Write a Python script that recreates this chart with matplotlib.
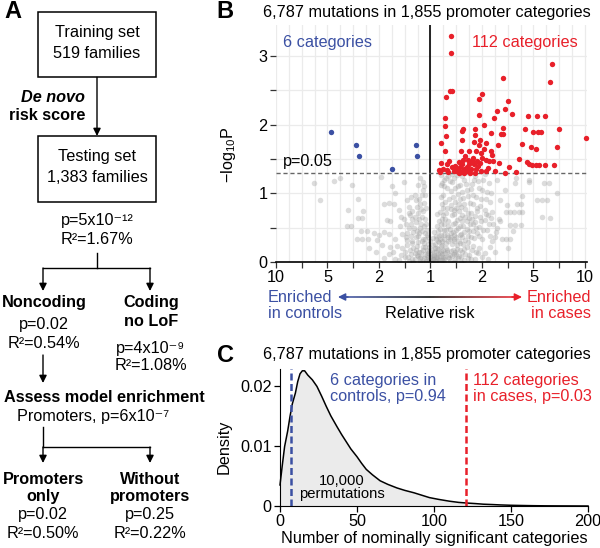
import numpy as np
import matplotlib.pyplot as plt
from matplotlib.patches import Rectangle
from matplotlib.collections import LineCollection
from matplotlib.colors import LinearSegmentedColormap

plt.rcParams['font.family'] = ['Liberation Sans', 'DejaVu Sans']
plt.rcParams['mathtext.fontset'] = 'custom'
plt.rcParams['mathtext.rm'] = 'Liberation Sans'
plt.rcParams['mathtext.it'] = 'Liberation Sans:italic'
plt.rcParams['mathtext.bf'] = 'Liberation Sans:bold'
plt.rcParams['font.size'] = 11.7

BLUE = '#3B50A3'
RED = '#E8202A'

# ---- panel B data (x in axis units: -3..3 <-> RR 10,5,2,1,2,5,10) ----
rr_ticks = [-3, -2, -1, 0, 1, 2, 3]
rr_labels = ['10', '5', '2', '1', '2', '5', '10']

ctrl_x = [-1.94, -1.44, -1.38, -0.75, -0.29, -0.26]
ctrl_y = [1.89, 1.71, 1.54, 1.35, 1.71, 1.54]

case_x = [0.40, 0.40, 0.37, 0.41, 0.30, 0.29, 0.29, 0.30, 0.21, 0.29,
          0.20, 0.36, 0.33, 0.17, 0.33, 0.35, 0.19, 0.63, 0.61, 0.62,
          0.59, 0.74, 0.87, 0.87, 0.85, 0.95, 0.88, 0.98, 1.04, 1.04,
          1.07, 1.01, 1.07, 1.14, 1.11, 0.98, 1.07, 1.17, 1.17, 1.20,
          1.24, 1.33, 1.40, 1.37, 1.41, 1.53, 1.66, 1.71, 1.77, 1.84,
          1.88, 1.92, 1.98, 2.04, 2.10, 1.95, 2.04, 2.00, 2.08, 2.15,
          2.23, 2.40, 2.45, 2.50, 3.02, 0.95, 0.94, 1.00, 1.30, 1.40,
          1.44, 1.51, 1.59, 1.31, 1.90, 2.06, 2.22, 2.32, 2.36, 0.97,
          0.48, 0.53, 0.50, 0.58, 0.62, 0.65, 0.60, 0.70, 0.74, 0.72,
          0.80, 0.84, 0.78, 0.66, 0.56, 0.70, 0.88, 0.92, 0.82, 0.68,
          0.55, 0.45, 0.90, 0.96, 0.63, 0.76, 1.25, 1.45, 0.25, 0.42,
          1.22, 0.86]
case_y = [3.29, 3.04, 2.49, 2.49, 2.40, 2.09, 1.98, 1.83, 1.73, 1.61,
          1.44, 1.47, 1.42, 1.34, 1.34, 1.31, 1.31, 1.93, 1.91, 1.77,
          1.61, 1.61, 1.93, 1.85, 1.75, 1.71, 1.61, 1.59, 1.64, 2.00,
          1.73, 1.51, 1.49, 1.47, 1.37, 1.32, 1.32, 1.88, 1.61, 1.56,
          2.10, 1.44, 1.95, 1.86, 1.86, 1.38, 1.31, 1.50, 1.72, 1.93,
          1.46, 1.42, 1.41, 1.41, 1.41, 1.67, 1.64, 1.89, 1.89, 1.89,
          1.41, 1.41, 1.67, 1.93, 1.80, 2.14, 2.38, 2.45, 2.20, 2.68,
          2.22, 2.34, 2.15, 1.70, 2.13, 2.13, 2.13, 2.62, 2.88, 1.78,
          1.40, 1.36, 1.33, 1.38, 1.42, 1.35, 1.31, 1.38, 1.43, 1.48,
          1.47, 1.42, 1.35, 1.30, 1.29, 1.32, 1.36, 1.40, 1.52, 1.55,
          1.45, 1.32, 1.47, 1.44, 1.49, 1.30, 1.33, 1.30, 1.36, 1.38,
          1.47, 1.30]

# non-significant categories (x, -log10 p), read region by region from the cloud
bg_core = [(-0.62, 0.03), (-0.5, 0.08), (-0.41, 0.02), (-0.37, 0.12), (-0.31, 0.05),
           (-0.28, 0.18), (-0.24, 0.09), (-0.2, 0.02), (-0.19, 0.14), (-0.15, 0.22),
           (-0.13, 0.06), (-0.1, 0.11), (-0.08, 0.01), (-0.06, 0.17), (-0.04, 0.07),
           (-0.02, 0.03), (0.01, 0.02), (0.03, 0.09), (0.05, 0.04), (0.06, 0.15),
           (0.08, 0.01), (0.1, 0.07), (0.12, 0.2), (0.14, 0.12), (0.16, 0.03),
           (0.19, 0.09), (0.21, 0.16), (0.23, 0.25), (0.26, 0.05), (0.28, 0.13),
           (0.31, 0.21), (0.34, 0.08), (0.37, 0.02), (0.39, 0.16), (0.42, 0.26),
           (0.45, 0.11), (0.48, 0.04), (0.51, 0.19), (0.55, 0.09), (0.58, 0.28),
           (0.62, 0.14), (0.66, 0.03), (0.7, 0.22), (0.75, 0.1), (0.8, 0.17),
           (0.86, 0.05), (0.92, 0.13), (1.0, 0.08), (-0.72, 0.14), (-0.55, 0.2),
           (-0.45, 0.25), (-0.35, 0.27), (-0.25, 0.29), (-0.12, 0.27), (-0.9, 0.06),
           (-0.78, 0.22), (-0.33, 0.0), (0.0, 0.12), (-0.02, 0.22), (0.09, 0.26),
           (0.17, 0.29), (0.27, 0.0), (0.45, 0.0), (0.6, 0.0), (-0.16, 0.0), (0.02, 0.0),
           (-0.27, 0.1), (-0.21, 0.06), (-0.09, 0.04), (-0.05, 0.13), (0.04, 0.05),
           (0.07, 0.1), (0.11, 0.02), (0.13, 0.07), (0.18, 0.05), (0.22, 0.11),
           (0.25, 0.18), (0.32, 0.14), (0.36, 0.06), (0.41, 0.09), (0.47, 0.15),
           (0.53, 0.06), (0.65, 0.19), (0.72, 0.06), (-0.44, 0.07), (-0.34, 0.2),
           (-0.4, 0.17), (-0.36, 0.05), (-0.3, 0.13), (-0.26, 0.24), (-0.23, 0.15),
           (-0.18, 0.08), (-0.17, 0.31), (-0.14, 0.17), (-0.11, 0.22), (-0.07, 0.1),
           (-0.05, 0.26), (-0.03, 0.16), (-0.01, 0.07), (0.0, 0.3), (0.02, 0.18),
           (0.04, 0.25), (0.06, 0.08), (0.08, 0.2), (0.1, 0.14), (0.12, 0.04),
           (0.14, 0.3), (0.15, 0.19), (0.18, 0.13), (0.2, 0.23), (0.22, 0.03),
           (0.24, 0.08), (0.26, 0.34), (0.29, 0.08), (0.3, 0.28), (0.33, 0.18),
           (0.35, 0.3), (0.38, 0.1), (0.4, 0.36), (0.43, 0.18), (0.46, 0.3),
           (0.5, 0.12), (0.52, 0.25), (0.57, 0.18), (0.6, 0.08), (0.64, 0.26),
           (0.68, 0.12), (0.73, 0.29), (0.78, 0.04), (0.83, 0.24), (0.88, 0.14),
           (0.95, 0.2), (1.05, 0.13), (1.12, 0.05), (-0.5, 0.15), (-0.58, 0.1),
           (-0.65, 0.24), (-0.46, 0.32), (-0.38, 0.38), (-0.29, 0.36), (-0.22, 0.42),
           (-0.1, 0.33), (-0.06, 0.4), (0.05, 0.35), (0.11, 0.38), (0.21, 0.4),
           (-0.8, 0.12), (-0.68, 0.05)]
bg_mid = [(-0.68, 0.33), (-0.55, 0.41), (-0.47, 0.36), (-0.42, 0.5), (-0.36, 0.31),
          (-0.33, 0.44), (-0.28, 0.58), (-0.24, 0.38), (-0.2, 0.49), (-0.17, 0.66),
          (-0.14, 0.34), (-0.11, 0.42), (-0.08, 0.55), (-0.52, 0.62), (-0.4, 0.69),
          (-0.3, 0.66), (-0.6, 0.52), (0.1, 0.34), (0.14, 0.45), (0.17, 0.38),
          (0.2, 0.55), (0.23, 0.31), (0.26, 0.47), (0.29, 0.62), (0.32, 0.39),
          (0.35, 0.53), (0.38, 0.33), (0.41, 0.68), (0.44, 0.44), (0.47, 0.57),
          (0.5, 0.36), (0.53, 0.49), (0.57, 0.64), (0.6, 0.41), (0.64, 0.53),
          (0.67, 0.32), (0.71, 0.6), (0.74, 0.45), (0.78, 0.37), (0.82, 0.56),
          (0.86, 0.67), (0.9, 0.42), (0.95, 0.51), (1.0, 0.33), (1.05, 0.61),
          (1.1, 0.46), (1.16, 0.38), (1.22, 0.55), (1.28, 0.44), (1.33, 0.62),
          (0.16, 0.6), (0.25, 0.68), (0.4, 0.42), (0.55, 0.31), (0.7, 0.48),
          (0.85, 0.35), (0.96, 0.66), (1.12, 0.68), (1.2, 0.31), (0.12, 0.52),
          (0.3, 0.46), (0.62, 0.69), (0.8, 0.63), (-0.16, 0.45), (-0.05, 0.36),
          (0.07, 0.43), (0.19, 0.33), (0.34, 0.36), (0.46, 0.4), (0.62, 0.36),
          (0.13, 0.7), (0.18, 0.48), (0.22, 0.63), (0.27, 0.55), (0.31, 0.72),
          (0.34, 0.6), (0.37, 0.48), (0.39, 0.77), (0.43, 0.56), (0.46, 0.7),
          (0.49, 0.46), (0.52, 0.61), (0.55, 0.74), (0.58, 0.52), (0.61, 0.6),
          (0.65, 0.44), (0.68, 0.66), (0.72, 0.38), (0.76, 0.55), (0.79, 0.72),
          (0.83, 0.45), (0.87, 0.58), (0.91, 0.74), (0.94, 0.38), (0.98, 0.6),
          (1.02, 0.47), (1.07, 0.7), (1.13, 0.56), (1.18, 0.64), (1.25, 0.36),
          (1.3, 0.5), (0.26, 0.39), (0.45, 0.34), (0.58, 0.4), (0.75, 0.64),
          (0.88, 0.5), (-0.45, 0.42), (-0.38, 0.55), (-0.32, 0.5), (-0.26, 0.45),
          (-0.23, 0.62), (-0.19, 0.56), (-0.13, 0.52), (-0.1, 0.62), (-0.07, 0.47),
          (-0.35, 0.63), (-0.25, 0.72), (-0.15, 0.74), (-0.48, 0.56)]
bg_top = [(-0.36, 0.74), (-0.27, 0.8), (-0.22, 0.92), (-0.18, 0.77), (-0.31, 0.98),
          (-0.15, 1.05), (-0.25, 1.12), (-0.12, 0.86), (-0.2, 1.22), (-0.14, 1.17),
          (-0.42, 0.72), (-0.1, 0.97), (0.18, 0.73), (0.22, 0.85), (0.25, 0.97),
          (0.27, 1.1), (0.3, 1.22), (0.33, 0.78), (0.36, 0.91), (0.39, 1.03),
          (0.42, 1.16), (0.45, 0.75), (0.48, 0.88), (0.51, 1.27), (0.54, 0.99),
          (0.57, 1.12), (0.6, 0.8), (0.63, 0.93), (0.66, 1.2), (0.7, 1.05),
          (0.73, 0.72), (0.76, 0.86), (0.8, 1.14), (0.83, 0.97), (0.87, 1.25),
          (0.9, 0.79), (0.94, 1.08), (0.98, 0.91), (1.02, 1.19), (1.06, 0.76),
          (1.1, 1.02), (1.15, 0.88), (1.2, 0.73), (0.21, 1.27), (0.35, 1.25),
          (0.47, 1.08), (0.68, 0.77), (0.75, 1.29), (1.05, 1.28), (0.24, 0.79),
          (0.55, 0.84), (0.92, 1.18), (0.4, 0.83), (0.62, 1.02),
          (-0.2, 0.84), (-0.28, 0.9), (-0.12, 1.1), (-0.17, 0.97), (-0.08, 0.78),
          (0.2, 0.95), (0.23, 1.15), (0.28, 0.87), (0.32, 1.07), (0.38, 1.18),
          (0.43, 0.95), (0.46, 1.22), (0.5, 0.79), (0.53, 1.1), (0.58, 0.92),
          (0.61, 1.25), (0.65, 0.85), (0.69, 1.13), (0.72, 0.96), (0.78, 1.06),
          (0.82, 0.84), (0.85, 1.2), (0.88, 0.95), (0.96, 0.82), (1.0, 1.05),
          (1.08, 0.92), (1.13, 1.15), (1.18, 1.0), (0.26, 1.2), (0.41, 1.28),
          (0.57, 1.29), (0.2, 1.12)]
bg_out = [(-2.27, 1.15), (-2.14, 0.90), (-1.88, 1.18), (-1.76, 1.23), (-1.52, 1.12),
          (-1.41, 0.91), (-1.61, 0.75), (-1.31, 0.74), (-1.41, 0.64), (-1.33, 0.64),
          (-1.63, 0.53), (-1.55, 0.53), (-1.35, 0.45), (-1.23, 0.45), (-1.42, 0.33),
          (-1.33, 0.33), (-1.21, 0.33), (-1.10, 0.42), (-1.00, 0.39), (-1.03, 0.32),
          (-0.91, 0.85), (-0.81, 0.86), (-0.71, 0.85), (-0.74, 1.10), (-0.68, 1.00),
          (-0.84, 0.61), (-0.78, 0.59), (-0.90, 0.44), (-0.81, 0.41), (-0.62, 0.76),
          (-0.58, 0.66), (-0.45, 0.90), (-0.42, 0.80), (-0.52, 1.17), (-0.38, 0.95),
          (-0.97, 1.24), (-1.20, 0.20), (-1.05, 0.15), (-0.95, 0.25),
          (1.65, 1.15), (1.67, 1.23), (1.91, 1.17), (2.20, 1.15), (2.30, 1.15),
          (2.06, 0.90), (2.17, 0.90), (2.27, 0.90), (2.17, 0.66), (1.68, 0.85),
          (1.75, 0.85), (1.49, 0.83), (1.46, 0.73), (1.55, 0.73), (1.62, 0.73),
          (1.36, 0.90), (1.71, 0.73), (1.78, 0.73), (1.55, 0.54), (1.65, 0.54),
          (1.75, 0.54), (1.39, 0.34), (1.46, 0.34), (1.54, 0.34), (1.78, 0.96),
          (1.92, 1.20), (2.33, 0.64), (2.45, 1.00), (1.45, 1.05), (1.30, 1.20),
          (1.50, 0.20), (1.60, 0.45), (1.35, 0.60), (1.25, 0.15), (1.15, 0.22)]
p_cut = 1.301  # -log10(0.05)

# ---- panel C data: permutation density ----
perm_x = [0, 1.5, 3, 5, 6.5, 8, 10, 11.5, 13, 14.5, 16, 18, 21, 24, 27, 30, 33, 37,
          40, 43, 46, 50, 53, 56, 60, 65, 70, 76, 81, 87, 92, 97, 103, 110, 116,
          121, 127, 132, 138, 143, 150, 154, 160, 165, 172, 180, 190, 200]
perm_y = [0.0035, 0.0068, 0.0099, 0.0125, 0.0149, 0.0170, 0.0188, 0.0207, 0.0220,
          0.0225, 0.0225, 0.0218, 0.0210, 0.0199, 0.0183, 0.0166, 0.0150, 0.0132,
          0.0119, 0.0107, 0.0095, 0.0082, 0.0071, 0.0061, 0.0052, 0.0042, 0.0036,
          0.0030, 0.0026, 0.0022, 0.0018, 0.0014, 0.0011, 0.0008, 0.0006,
          0.0005, 0.0004, 0.0003, 0.00024, 0.00018, 0.00012, 0.0001, 0.00007,
          0.00005, 0.00003, 0.00002, 0.00001, 0.0]
ctrl_obs = 7
case_obs = 121

fig = plt.figure(figsize=(6, 5.48), dpi=100)

# overlay in pixel coordinates for panel A and annotations
ov = fig.add_axes([0, 0, 1, 1])
ov.set_xlim(0, 600)
ov.set_ylim(548, 0)
ov.axis('off')
ov.set_zorder(5)
ov.patch.set_visible(False)

# ---------------- Panel A: flowchart ----------------
ov.text(13, 12, 'A', fontsize=17, fontweight='bold', ha='center', va='center')
ov.add_patch(Rectangle((37.7, 12.3), 118.3, 65, fill=False, lw=1.1, ec='black'))
ov.text(97, 33, 'Training set', ha='center', va='center')
ov.text(97, 53, '519 families', ha='center', va='center')

def arrow(x0, y0, x1, y1):
    ov.annotate('', xy=(x1, y1), xytext=(x0, y0),
                arrowprops=dict(arrowstyle='-|>', color='black', lw=1,
                                mutation_scale=11, shrinkA=0, shrinkB=0))

def seg(xs, ys):
    ov.plot(xs, ys, color='black', lw=1)

arrow(97, 77.3, 97, 136)
ov.text(85, 98, 'De novo', ha='right', va='center', fontweight='bold', fontstyle='italic')
ov.text(85, 115, 'risk score', ha='right', va='center', fontweight='bold')
ov.add_patch(Rectangle((37.7, 136), 118.3, 65.7, fill=False, lw=1.1, ec='black'))
ov.text(97, 157, 'Testing set', ha='center', va='center')
ov.text(97, 178, '1,383 families', ha='center', va='center')
ov.text(97, 221, 'p=5x10\u207b\u00b9\u00b2', ha='center', va='center')
ov.text(97, 239, 'R\u00b2=1.67%', ha='center', va='center')

seg([97, 97], [253, 268])
seg([43, 150], [268, 268])
arrow(43, 268, 43, 291)
arrow(150, 268, 150, 291)

ov.text(44, 303, 'Noncoding', ha='center', va='center', fontweight='bold')
ov.text(44, 325, 'p=0.02', ha='center', va='center')
ov.text(44, 343, 'R\u00b2=0.54%', ha='center', va='center')
ov.text(151, 303, 'Coding', ha='center', va='center', fontweight='bold')
ov.text(151, 321, 'no LoF', ha='center', va='center', fontweight='bold')
ov.text(151, 348, 'p=4x10\u207b\u2079', ha='center', va='center')
ov.text(151, 366, 'R\u00b2=1.08%', ha='center', va='center')

arrow(43, 355, 43, 383)
ov.text(104, 398, 'Assess model enrichment', ha='center', va='center', fontweight='bold')
ov.text(93, 417, 'Promoters, p=6x10\u207b\u2077', ha='center', va='center')

seg([43, 43], [427, 447])
arrow(43, 447, 43, 463)
seg([43, 150], [447, 447])
arrow(150, 447, 150, 463)

for x, lines in [(43, ['Promoters', 'only', 'p=0.02', 'R\u00b2=0.50%']),
                 (150, ['Without', 'promoters', 'p=0.25', 'R\u00b2=0.22%'])]:
    for i, (t, yy) in enumerate(zip(lines, [480, 497, 515, 533])):
        ov.text(x, yy, t, ha='center', va='center',
                fontweight='bold' if i < 2 else 'normal')

# ---------------- Panel B: volcano ----------------
axB = fig.add_axes([276/600, 1-262/548, 311/600, 237/548])
axB.set_xlim(-3.0, 3.04)
axB.set_ylim(0, 3.45)
xt = np.arange(-3, 3.01, 0.5)
axB.set_xticks(xt)
axB.set_xticklabels([rr_labels[rr_ticks.index(int(v))] if float(v).is_integer() else ''
                     for v in xt])
axB.set_xticks(np.arange(-3, 3.01, 0.25), minor=True)
axB.set_yticks(np.arange(0, 3.01, 0.5))
axB.set_yticklabels(['0', '', '1', '', '2', '', '3'])
axB.grid(which='both', color='#ebebeb', lw=0.9)
axB.set_axisbelow(True)
axB.tick_params(which='major', length=4, width=0.9, color='#333333', pad=2)
axB.tick_params(which='minor', length=0)
for s in ['left', 'right', 'top']:
    axB.spines[s].set_visible(False)
axB.spines['bottom'].set_linewidth(1.2)

bg_pts = bg_core + bg_mid + bg_top + bg_out
axB.scatter([p[0] for p in bg_pts], [p[1] for p in bg_pts], s=16, color='#a0a0a0',
            alpha=0.36, lw=0, zorder=2)
axB.axvline(0, color='black', lw=1.2, zorder=3)
axB.axhline(p_cut, color='#666666', lw=1, ls=(0, (3, 2)), zorder=3)
axB.scatter(ctrl_x, ctrl_y, s=15, color=BLUE, lw=0, zorder=4, clip_on=False)
axB.scatter(case_x, case_y, s=15, color=RED, lw=0, zorder=4, clip_on=False)
axB.text(-2.86, 1.40, 'p=0.05', ha='left', va='baseline')
axB.text(-2.87, 3.20, '6 categories', color=BLUE, ha='left', va='center')
axB.text(2.87, 3.20, '112 categories', color=RED, ha='right', va='center')

ov.text(225, 12, 'B', fontsize=17, fontweight='bold', ha='center', va='center')
ov.text(427, 12, '6,787 mutations in 1,855 promoter categories', ha='center', va='center')
ov.text(228, 155, '\u2212log$_{10}$P', rotation=90, ha='center', va='center')

# gradient arrow under the axis
cmap = LinearSegmentedColormap.from_list('rr', [BLUE, 'black', RED])
gx = np.linspace(346, 514, 120)
pts = np.array([[gx[:-1], np.full(119, 297)], [gx[1:], np.full(119, 297)]]).transpose(2, 0, 1)
lc = LineCollection(pts, colors=cmap(np.linspace(0, 1, 119)), lw=1.1)
ov.add_collection(lc)
ov.annotate('', xy=(338, 297), xytext=(348, 297),
            arrowprops=dict(arrowstyle='-|>', color=BLUE, lw=1, mutation_scale=11,
                            shrinkA=0, shrinkB=0))
ov.annotate('', xy=(522, 297), xytext=(512, 297),
            arrowprops=dict(arrowstyle='-|>', color=RED, lw=1, mutation_scale=11,
                            shrinkA=0, shrinkB=0))
ov.text(268, 297, 'Enriched', color=BLUE, ha='left', va='center')
ov.text(268, 313, 'in controls', color=BLUE, ha='left', va='center')
ov.text(591, 297, 'Enriched', color=RED, ha='right', va='center')
ov.text(591, 313, 'in cases', color=RED, ha='right', va='center')
ov.text(430, 313, 'Relative risk', ha='center', va='center')

# ---------------- Panel C: permutation density ----------------
axC = fig.add_axes([280/600, 1-506/548, 308/600, 137/548])
axC.set_xlim(0, 200)
axC.set_ylim(0, 0.0228)
axC.fill_between(perm_x, perm_y, color='#ebebeb', lw=0)
axC.plot(perm_x, perm_y, color='black', lw=1.1, clip_on=False)
axC.axvline(ctrl_obs, color=BLUE, lw=1.8, ls=(0, (2.8, 1.4)))
axC.axvline(case_obs, color=RED, lw=1.8, ls=(0, (2.8, 1.4)))
axC.set_xticks([0, 50, 100, 150, 200])
axC.set_yticks([0, 0.01, 0.02])
axC.set_yticklabels(['0', '0.01', '0.02'])
axC.tick_params(length=4, width=0.9, pad=2)
for s in ['right', 'top']:
    axC.spines[s].set_visible(False)
axC.set_xlabel('Number of nominally significant categories', labelpad=1)

ov.text(225, 355, 'C', fontsize=17, fontweight='bold', ha='center', va='center')
ov.text(427, 355, '6,787 mutations in 1,855 promoter categories', ha='center', va='center')
ov.text(224, 447, 'Density', rotation=90, ha='center', va='center')
ov.text(330, 380, '6 categories in', color=BLUE, ha='left', va='center')
ov.text(330, 397, 'controls, p=0.94', color=BLUE, ha='left', va='center')
ov.text(473, 380, '112 categories', color=RED, ha='left', va='center')
ov.text(473, 397, 'in cases, p=0.03', color=RED, ha='left', va='center')
ov.text(342, 481, '10,000', fontsize=10.6, ha='center', va='center')
ov.text(342, 494, 'permutations', fontsize=10.6, ha='center', va='center')

fig.savefig('out.png', dpi=100)
